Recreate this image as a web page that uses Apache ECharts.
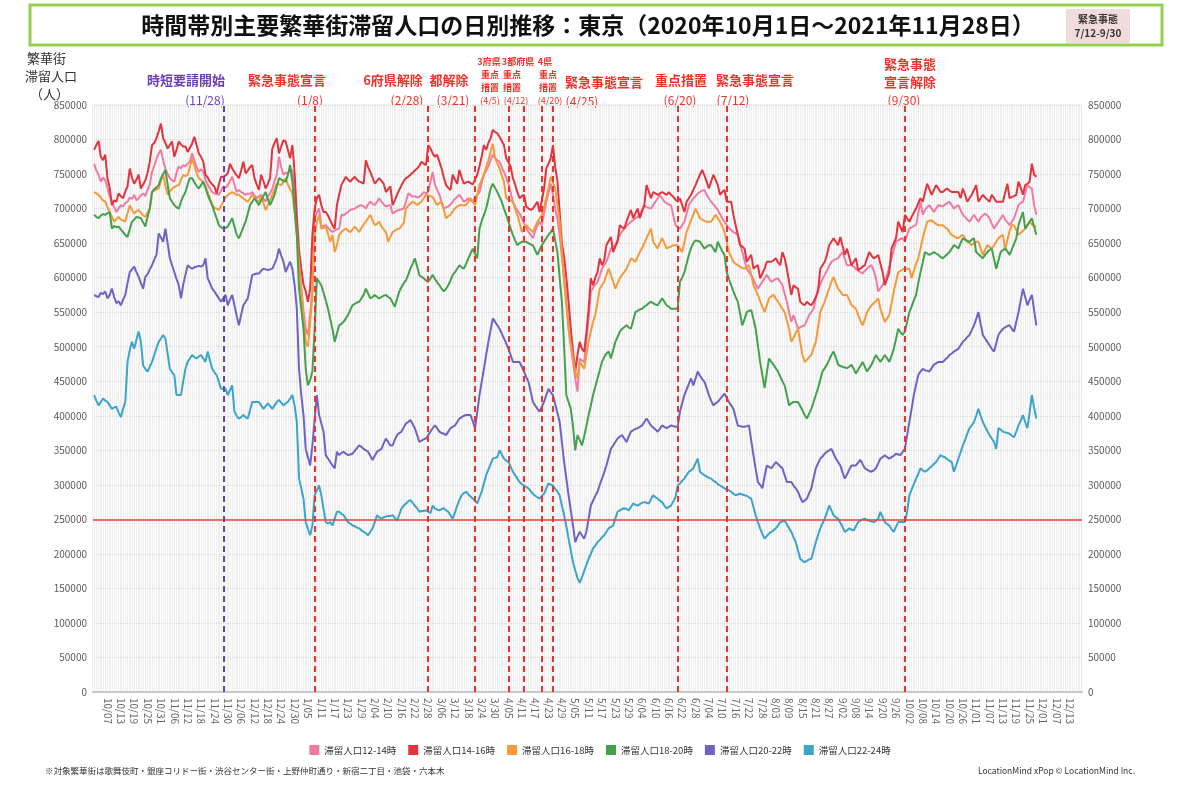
<!DOCTYPE html>
<html><head><meta charset="utf-8">
<script src="https://cdn.jsdelivr.net/npm/echarts@6/dist/echarts.min.js"></script>
<style>html,body{margin:0;padding:0;background:#fff}#c{width:1200px;height:788px}</style>
</head><body><div id="c"></div>
<script>
// ---- DATA (daily values, in thousands of people, 2020-10-01 .. 2021-11-28) ----
const UNIT = 1000;
const START_DATE = '2020-10-01';
const AXIS_DAYS = 444; // axis runs to 2021-12-18
const seriesNames = ['滞留人口12-14時','滞留人口14-16時','滞留人口16-18時','滞留人口18-20時','滞留人口20-22時','滞留人口22-24時'];
const seriesColors = ['#ef7ba4','#e0343f','#f39a3b','#44a04c','#6f63c2','#3ca3c9'];

const v12_14 = [765,755,749,739,745,741,730,718,710,702,695,700,705,703,708,710,716,714,720,712,715,719,722,718,727,735,753,762,772,780,785,770,758,750,744,741,739,752,761,758,763,761,765,768,780,770,760,753,757,753,742,734,729,724,722,721,720,726,732,730,734,740,746,735,724,727,724,722,720,722,721,724,719,715,718,720,714,710,718,722,729,740,749,775,760,749,752,751,754,756,730,671,625,584,552,526,517,548,580,686,694,700,674,675,676,672,669,666,668,670,671,691,690,693,695,698,699,700,702,704,705,703,700,706,710,707,705,710,715,710,706,703,704,705,693,695,697,698,699,700,710,722,720,717,718,716,717,720,724,722,724,738,753,735,727,720,710,700,702,703,706,710,714,717,720,715,710,712,715,712,710,716,720,724,737,749,755,761,770,778,773,770,768,760,753,745,736,723,710,703,697,693,686,679,672,666,662,657,668,675,681,676,693,710,723,736,720,700,685,662,630,599,565,526,500,478,454,435,483,480,478,510,541,580,585,590,594,603,613,618,623,632,642,645,647,655,662,667,671,675,678,681,683,686,688,691,698,705,702,701,700,705,710,715,720,715,710,708,706,705,690,676,673,671,676,681,693,705,710,715,718,722,724,726,727,720,715,710,706,702,698,692,686,681,676,672,669,666,664,662,650,637,625,613,608,604,598,590,584,589,594,599,604,599,594,596,598,599,594,589,577,565,550,536,546,536,526,528,530,531,538,546,550,555,570,584,590,598,604,610,617,623,625,627,628,633,637,628,618,618,618,616,613,610,608,606,610,613,616,618,610,599,580,585,589,596,604,616,628,640,652,654,656,657,652,662,671,673,675,676,693,710,691,698,702,705,700,695,700,705,704,703,706,708,710,705,700,703,705,698,691,688,684,681,686,691,686,681,687,690,693,690,686,678,671,676,681,686,691,684,680,676,681,686,695,705,708,710,722,734,731,729,705,691];
const v14_16 = [785,792,798,775,770,778,744,730,705,712,710,722,718,715,725,732,758,745,736,742,749,729,735,741,752,768,792,795,802,812,823,802,795,787,792,797,775,785,797,793,790,790,782,788,794,804,792,780,775,768,749,745,739,735,732,722,735,746,746,748,751,765,758,753,748,744,755,768,751,755,760,763,744,735,727,749,740,729,736,744,787,795,802,780,790,799,797,785,773,792,753,690,640,613,590,580,565,584,662,700,715,720,705,695,695,690,683,676,671,705,720,734,740,746,742,739,743,746,742,739,738,736,770,760,753,745,736,740,744,740,736,724,728,732,705,712,720,727,734,740,744,746,749,752,755,758,762,768,765,763,792,787,780,775,778,768,758,745,734,730,727,749,742,736,756,745,736,738,739,737,735,742,749,761,776,792,785,795,802,814,811,809,804,798,792,773,767,761,744,735,724,715,718,720,703,700,698,700,705,710,695,712,729,758,765,773,792,760,740,695,650,630,600,565,526,493,464,488,507,497,493,520,555,599,589,600,608,628,618,625,647,653,659,637,645,652,676,673,671,681,690,698,686,693,700,686,696,705,734,725,715,724,722,720,722,724,722,720,724,720,717,713,710,715,705,695,710,715,720,727,734,742,749,756,748,739,729,739,749,742,734,720,724,727,710,710,710,691,676,662,647,645,642,623,628,633,613,616,618,599,606,613,623,623,623,625,628,622,618,637,628,613,594,575,589,586,584,565,562,560,565,562,560,565,572,580,613,618,623,633,647,652,657,652,647,659,646,633,642,630,618,623,628,611,613,616,618,628,637,632,628,630,633,620,608,589,598,608,642,650,657,681,673,666,691,686,681,688,694,700,708,715,710,723,736,728,720,727,734,729,724,724,727,729,726,724,724,724,724,715,729,720,710,715,720,727,734,710,715,720,716,713,710,720,715,710,710,710,710,723,736,715,717,718,720,739,730,720,734,736,739,765,749,746];
const v16_18 = [724,722,720,716,712,710,702,695,688,681,685,688,684,683,681,693,705,698,693,696,698,694,690,688,694,700,724,726,728,729,740,749,733,720,725,729,731,733,734,742,749,747,749,760,773,762,752,744,741,739,732,724,715,705,701,700,698,704,710,716,720,722,724,722,720,720,717,715,712,710,715,720,716,712,710,720,708,698,705,712,720,728,736,735,734,739,744,735,728,722,695,662,620,584,545,507,500,535,575,662,680,691,671,672,674,663,652,662,637,647,662,666,669,671,668,666,670,674,670,666,672,677,681,686,691,683,676,678,681,674,670,666,652,659,666,668,670,671,675,679,700,704,707,710,708,705,708,710,715,720,719,718,717,711,705,708,710,698,686,689,691,696,700,703,705,705,705,705,710,715,710,705,720,734,742,749,760,770,782,794,773,766,758,748,739,715,713,712,710,700,691,679,666,671,676,672,669,666,674,681,686,691,703,715,730,746,738,729,705,681,640,594,560,526,505,483,464,454,478,473,468,488,507,522,536,546,565,584,589,594,604,613,604,594,584,592,599,604,608,613,620,628,626,623,630,637,643,650,657,664,671,652,647,642,650,657,650,642,644,645,647,647,647,642,637,652,666,675,683,691,700,693,686,684,682,681,681,681,686,691,686,681,674,666,652,637,630,623,620,618,616,614,613,616,618,604,589,582,575,566,558,550,560,570,573,575,570,565,560,555,550,538,526,507,513,520,526,507,488,478,481,485,488,498,507,528,550,558,565,575,584,594,601,592,584,580,575,575,575,568,560,558,555,546,538,531,540,550,555,560,563,566,570,555,545,536,541,546,563,580,594,608,610,612,613,613,613,599,610,620,628,642,657,669,681,682,683,680,678,676,676,676,673,671,666,662,660,658,657,660,662,657,652,650,647,650,652,652,642,633,640,647,645,642,647,652,657,660,662,640,655,668,676,676,669,662,665,668,671,676,681,677,674,674];
const v18_20 = [691,688,686,690,692,691,693,695,671,675,673,674,670,666,662,659,670,681,684,688,687,686,680,674,688,700,724,728,731,734,744,750,756,735,715,710,705,702,700,710,718,724,735,744,744,738,733,729,734,739,730,720,712,705,695,686,676,673,671,672,674,680,686,674,662,657,665,673,681,693,705,710,715,710,705,712,718,724,714,705,712,720,732,744,742,740,739,749,763,739,700,662,584,555,526,468,444,452,464,526,599,594,589,578,567,555,540,526,507,519,531,533,536,541,546,553,560,562,564,565,570,575,584,577,570,572,575,572,570,572,574,575,572,570,564,558,569,580,586,592,596,604,613,620,628,616,604,601,599,596,594,599,604,598,593,589,584,580,584,589,596,604,608,613,618,615,613,620,628,635,642,635,628,671,682,691,700,714,729,736,730,724,717,710,700,691,681,671,662,654,647,650,652,652,652,650,648,647,640,633,640,647,652,657,662,666,671,654,637,600,565,500,430,420,410,385,350,372,365,357,370,385,401,415,430,442,454,466,478,485,490,493,483,495,507,514,522,526,528,531,528,526,538,550,552,554,555,558,560,563,565,563,561,560,565,570,565,560,558,555,555,555,555,594,600,608,620,633,643,650,654,653,652,647,642,645,647,647,642,637,652,645,638,633,608,598,589,580,572,565,548,531,540,550,552,553,540,526,502,478,459,440,462,483,478,474,469,464,457,450,444,430,415,418,420,420,420,414,408,401,396,403,410,420,430,440,452,464,469,474,481,488,493,484,474,472,471,470,469,471,474,468,461,467,472,478,471,464,469,474,481,488,483,478,483,488,483,478,487,497,511,526,521,517,522,536,550,558,567,575,592,608,622,637,635,633,635,637,635,633,630,628,631,634,637,642,647,645,642,650,657,655,653,652,655,657,637,634,631,628,633,637,640,642,627,613,625,637,640,642,638,633,641,649,657,676,686,695,671,676,681,686,674,662];
const v20_22 = [575,573,572,578,576,580,570,575,584,572,563,566,560,568,575,592,608,612,616,608,601,592,584,601,605,612,618,626,633,664,658,652,671,650,628,618,608,598,589,570,590,604,618,615,613,615,616,617,616,618,628,599,592,584,580,575,570,565,570,575,560,568,575,560,545,531,546,560,565,570,587,604,605,606,606,610,613,612,611,612,613,620,628,642,632,623,608,616,623,613,590,555,468,430,401,352,340,328,357,395,430,401,389,377,343,338,333,328,324,348,343,346,348,345,343,344,345,349,353,357,355,352,350,348,342,336,342,348,350,352,360,367,362,357,357,365,372,375,377,383,389,391,394,388,382,372,362,364,366,367,372,377,382,386,382,377,375,374,372,377,382,384,386,391,396,398,400,401,401,401,392,382,405,430,449,468,488,507,524,541,536,531,526,519,512,505,497,488,478,478,478,478,471,464,456,449,435,420,415,410,406,413,420,430,439,434,430,417,404,391,362,333,309,285,263,241,217,225,232,227,222,232,251,270,277,284,290,300,309,318,328,340,352,357,362,367,370,372,367,362,370,377,379,381,382,384,386,391,396,391,386,383,380,377,381,386,384,382,384,386,385,384,384,406,418,430,438,446,454,444,454,464,458,453,449,440,430,422,415,418,420,424,428,432,426,420,415,410,398,386,385,384,384,385,386,364,343,323,304,300,295,312,328,326,324,328,333,330,327,324,314,304,304,304,299,295,290,282,275,277,280,288,295,310,324,331,338,341,345,348,350,352,345,338,333,328,318,309,315,322,328,328,328,332,336,330,324,322,320,319,321,324,331,338,340,343,340,338,340,342,345,344,343,348,352,372,391,410,430,445,459,464,468,466,465,464,469,474,476,478,478,478,481,484,488,490,493,495,497,502,507,510,514,517,524,531,540,550,533,517,512,507,502,497,493,505,517,522,526,528,530,531,526,522,536,550,567,584,572,560,568,575,553,531];
const v22_24 = [430,422,415,420,425,422,420,415,410,412,413,405,398,410,420,478,495,507,497,510,522,507,473,468,464,471,478,488,498,507,512,517,512,490,468,463,459,430,430,430,450,468,478,483,488,485,483,486,488,483,478,493,480,468,463,459,449,439,439,439,430,437,444,406,400,396,398,401,398,396,408,420,420,420,420,415,410,414,418,414,410,415,420,423,419,415,418,420,425,430,415,391,309,295,280,246,236,227,241,285,292,299,285,265,246,244,246,241,251,261,261,258,256,251,246,244,241,240,238,237,234,232,230,227,232,237,246,256,253,251,253,254,255,255,256,252,248,257,266,270,273,276,278,274,270,266,261,262,262,263,261,259,270,266,264,263,265,266,263,261,256,251,260,270,278,285,288,290,286,283,280,277,273,282,290,302,314,322,330,338,339,340,350,344,338,335,333,326,319,314,309,304,301,299,297,295,291,287,284,282,280,284,287,295,302,300,299,294,290,285,270,256,240,222,205,188,176,165,158,166,175,184,193,200,208,212,217,220,224,227,232,237,239,241,251,261,263,265,266,265,263,268,273,271,270,272,274,275,274,273,279,285,282,280,277,275,270,266,268,270,276,282,299,302,306,309,314,319,321,324,331,338,319,316,314,312,310,309,306,304,301,299,297,295,293,292,290,287,285,286,287,286,285,284,282,280,268,256,246,237,229,222,226,229,232,234,237,241,246,247,248,243,237,232,224,217,205,193,190,188,190,192,193,205,217,227,237,244,251,260,270,263,256,253,251,245,239,232,234,237,235,234,240,246,248,250,251,249,248,247,246,248,251,261,253,246,243,241,236,232,239,246,246,246,246,261,285,293,301,309,316,324,321,319,321,324,327,330,333,338,343,341,340,337,335,333,319,328,338,347,357,365,374,382,386,391,400,410,400,391,384,378,372,367,362,352,382,380,377,376,375,374,371,369,377,386,393,401,391,382,405,430,412,396];

// event markers (vertical dashed lines)
const eventDates  = ['2020-11-28','2021-01-08','2021-02-28','2021-03-21','2021-04-05','2021-04-12','2021-04-20','2021-04-25','2021-06-20','2021-07-12','2021-09-30'];
const eventColors = ['#6b3db8','#f0302a','#f0302a','#f0302a','#f0302a','#f0302a','#f0302a','#f0302a','#f0302a','#f0302a','#f0302a'];
const baselineValue = 250000;

// y ticks
const Y_MIN = 0, Y_MAX = 850000, Y_STEP = 50000;

// ---- annotation texts (label text, colour, layout) ----
const RED = '#f0302a', PUR = '#6b3db8';
const annotations = [
  ['時短要請開始',186,80,13,PUR,'bold'],['(11/28)',205,100,12,PUR,'normal'],
  ['緊急事態宣言',287,80,13,RED,'bold'],['(1/8)',310,100,12,RED,'normal'],
  ['6府県解除',393,80,13,RED,'bold'],['(2/28)',407,100,12,RED,'normal'],
  ['都解除',449,80,13,RED,'bold'],['(3/21)',453,100,12,RED,'normal'],
  ['3府県',489,62,9,RED,'bold'],['重点',490,75,9,RED,'bold'],['措置',490,88,9,RED,'bold'],['(4/5)',490,101,9,RED,'normal'],
  ['3都府県',518,62,9,RED,'bold'],['重点',512,75,9,RED,'bold'],['措置',512,88,9,RED,'bold'],['(4/12)',516,101,9,RED,'normal'],
  ['4県',545,62,9,RED,'bold'],['重点',548,75,9,RED,'bold'],['措置',548,88,9,RED,'bold'],['(4/20)',550,101,9,RED,'normal'],
  ['緊急事態宣言',604,82,13,RED,'bold'],['(4/25)',582,101,12,RED,'normal'],
  ['重点措置',681,80,13,RED,'bold'],['(6/20)',680,100,12,RED,'normal'],
  ['緊急事態宣言',755,80,13,RED,'bold'],['(7/12)',733,100,12,RED,'normal'],
  ['緊急事態',910,64,13,RED,'bold'],['宣言解除',910,82,13,RED,'bold'],['(9/30)',904,100,12,RED,'normal']
];

// ---- build ----
function buildDates(start, n){
  const out=[]; const t0=new Date(start+'T00:00:00Z').getTime();
  for(let i=0;i<n;i++){ out.push(new Date(t0+i*86400000).toISOString().slice(0,10)); }
  return out;
}
const dates = buildDates(START_DATE, AXIS_DAYS);
const seriesValues = [v12_14, v14_16, v16_18, v18_20, v20_22, v22_24];
const FONT = '"Noto Sans CJK JP","Noto Sans",sans-serif';

const chart = echarts.init(document.getElementById('c'), null, {renderer:'canvas'});

const series = seriesValues.map((arr,i)=>({
  name: seriesNames[i], type:'line', data: arr.map(v=>v*UNIT),
  showSymbol:false, symbol:'none', lineStyle:{width:2, color:seriesColors[i]},
  itemStyle:{color:seriesColors[i]}, emphasis:{disabled:true}, z: 3
}));
series[5].markLine = {
  silent:true, symbol:'none', animation:false, label:{show:false},
  data: [{yAxis: baselineValue, lineStyle:{color:'#e8413c', type:'solid', width:1.5}}]
    .concat(eventDates.map((d,i)=>({xAxis:d, lineStyle:{color:eventColors[i], type:[6,4], width:2}})))
};

const graphics = [
  {type:'rect', shape:{x:30,y:5,width:1132,height:40}, style:{fill:'#fff', stroke:'#92d050', lineWidth:3}, z:0},
  {type:'text', x:588, y:25, style:{text:'時間帯別主要繁華街滞留人口の日別推移：東京（2020年10月1日～2021年11月28日）', font:'bold 23px '+FONT, fill:'#111', textAlign:'center', textVerticalAlign:'middle'}},
  {type:'rect', shape:{x:1066,y:9,width:64,height:34}, style:{fill:'#f2dcdb'}},
  {type:'text', x:1098, y:19, style:{text:'緊急事態', font:'bold 10px '+FONT, fill:'#333', textAlign:'center', textVerticalAlign:'middle'}},
  {type:'text', x:1098, y:33, style:{text:'7/12-9/30', font:'bold 10px '+FONT, fill:'#333', textAlign:'center', textVerticalAlign:'middle'}},
  {type:'text', x:27, y:58, style:{text:'繁華街', font:'13px '+FONT, fill:'#333', textVerticalAlign:'middle'}},
  {type:'text', x:25, y:76, style:{text:'滞留人口', font:'13px '+FONT, fill:'#333', textVerticalAlign:'middle'}},
  {type:'text', x:30, y:94, style:{text:'（人）', font:'13px '+FONT, fill:'#333', textVerticalAlign:'middle'}},
  {type:'text', x:45, y:771, style:{text:'※対象繁華街は歌舞伎町・銀座コリドー街・渋谷センター街・上野仲町通り・新宿二丁目・池袋・六本木', font:'8.5px '+FONT, fill:'#333', textVerticalAlign:'middle'}},
  {type:'text', x:1135, y:771, style:{text:'LocationMind xPop © LocationMind Inc.', font:'8.5px '+FONT, fill:'#333', textAlign:'right', textVerticalAlign:'middle'}}
].concat(annotations.map(a=>({type:'text', x:a[1], y:a[2], style:{text:a[0], font:a[5]+' '+a[3]+'px '+FONT, fill:a[4], textAlign:'center', textVerticalAlign:'middle'}})));

const plainNumber = (v)=>String(v);

chart.setOption({
  animation:false,
  backgroundColor:'#ffffff',
  textStyle:{fontFamily:FONT},
  grid:{left:93, right:118, top:105, bottom:96, show:true, backgroundColor:'#efefef', borderColor:'#e2e2e2', borderWidth:1},
  legend:{data:seriesNames, top:740, left:'center', icon:'rect', itemWidth:10, itemHeight:10, itemGap:12,
    textStyle:{fontSize:9.5, color:'#333', fontFamily:FONT}},
  xAxis:{type:'category', data:dates, boundaryGap:true,
    axisLine:{show:true, lineStyle:{color:'#c8c8c8', width:2}},
    axisTick:{show:false},
    axisLabel:{rotate:-90, fontSize:10, color:'#666', margin:6,
      interval:(idx)=> idx>0 && idx%6===0,
      formatter:(v)=>{const p=v.split('-'); return (+p[1])+'/'+p[2];}},
    splitLine:{show:true, interval:0, lineStyle:{color:'rgba(255,255,255,0.85)', width:1}}},
  yAxis:[
    {type:'value', min:Y_MIN, max:Y_MAX, interval:Y_STEP,
      axisLine:{show:false}, axisTick:{show:false},
      axisLabel:{fontSize:10, color:'#595959', margin:6, formatter:plainNumber},
      splitLine:{show:true, lineStyle:{color:'#dadada', width:1}}},
    {type:'value', position:'right', min:Y_MIN, max:Y_MAX, interval:Y_STEP,
      axisLine:{show:false}, axisTick:{show:false},
      axisLabel:{fontSize:10, color:'#595959', margin:6, formatter:plainNumber},
      splitLine:{show:false}}
  ],
  series: series,
  graphic: graphics
});
</script></body></html>
